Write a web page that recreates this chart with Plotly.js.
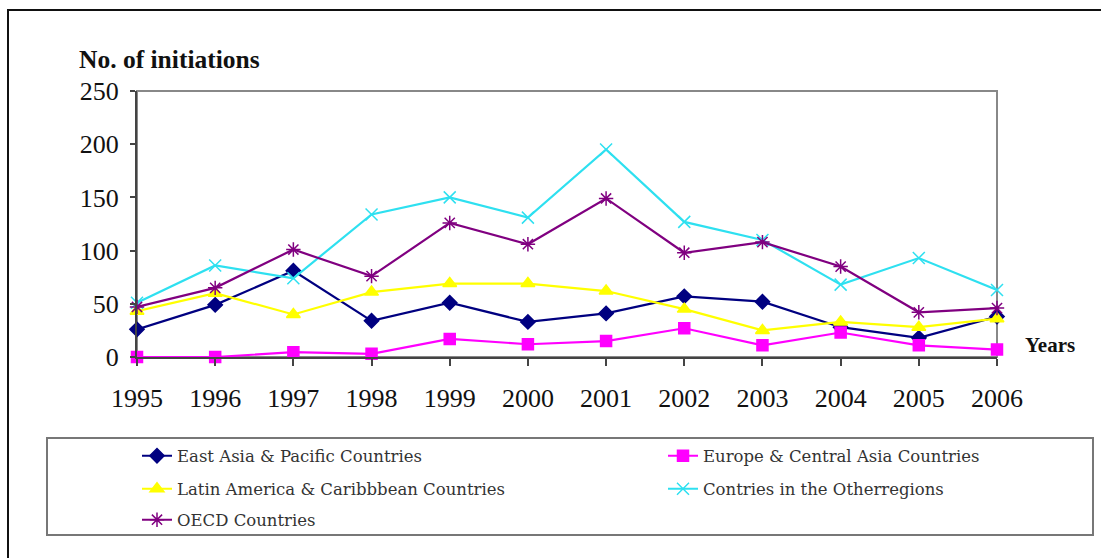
<!DOCTYPE html>
<html>
<head>
<meta charset="utf-8">
<script src="https://cdn.plot.ly/plotly-3.0.1.min.js"></script>
<style>html,body{margin:0;padding:0;background:#fff;}#chart{width:1101px;height:558px;}</style>
</head>
<body>
<div id="chart"></div>
<script>
const years = [1995,1996,1997,1998,1999,2000,2001,2002,2003,2004,2005,2006];
const eastAsia = [26,49,81,34,51,33,41,57,52,28,18,38];
const europe = [0,0,4.5,3,17,12,15,27,11,23,11,7];
const latinAmerica = [43,60,40,61,69,69,62,45,25,33,28,36];
const otherRegions = [51,86,74,134,150,131,195,127,110,68,93,63];
const oecd = [47,65,101,76,126,106,149,98,108,85,42,46];
const seriesNames = ["East Asia & Pacific Countries","Europe & Central Asia Countries","Latin America & Caribbbean Countries","Contries in the Otherregions","OECD Countries"];
const yTicks = [0,50,100,150,200,250];

const L=137, R=997, T=91, B=357;
function px(x){return (x-L)/(R-L);}
function py(y){return (B-y)/(B-T);}

function tr(y, name, color, symbol, size, legend){
  return {x: years, y: y, name: name, type:'scatter', mode:'lines+markers',
    line:{color:color, width:2.2},
    marker:{symbol:symbol, size:size, color:color, line:{color:color, width:1.5}},
    cliponaxis:false, legend:legend};
}
const data = [
  tr(eastAsia, seriesNames[0], '#000080', 'diamond', 11, 'legend'),
  tr(europe, seriesNames[1], '#FF00FF', 'square', 11, 'legend2'),
  tr(latinAmerica, seriesNames[2], '#FFFF00', 'triangle-up', 12, 'legend3'),
  tr(otherRegions, seriesNames[3], '#2EE0F0', 'x-thin-open', 12, 'legend4'),
  tr(oecd, seriesNames[4], '#800080', 'asterisk-open', 12, 'legend5')
];
const serif = 'Liberation Serif';
const tickFont = {family:serif, size:26, color:'#111'};
const legFont = {family:'DejaVu Serif', size:16.5, color:'#333'};
function leg(xp, yp){
  return {orientation:'h', x:px(xp), xanchor:'left', y:py(yp), yanchor:'middle',
    font:legFont, bgcolor:'rgba(0,0,0,0)', borderwidth:0};
}
const layout = {
  width:1101, height:558,
  margin:{l:L, r:1101-R, t:T, b:558-B, pad:0},
  paper_bgcolor:'#fff', plot_bgcolor:'#fff',
  showlegend:true,
  xaxis:{range:[1995,2006], tickvals:years, ticktext:years.map(String), showgrid:false, zeroline:false,
    showline:true, linecolor:'#444', linewidth:2, ticks:'outside', ticklen:7, tickcolor:'#444', tickwidth:2,
    tickfont:tickFont, ticklabelstandoff:10, fixedrange:true},
  yaxis:{range:[0,250], tickvals:yTicks, showgrid:false, zeroline:false,
    showline:true, linecolor:'#444', linewidth:2, ticks:'outside', ticklen:5, tickcolor:'#444', tickwidth:2,
    tickfont:tickFont, ticklabelstandoff:6, fixedrange:true},
  legend:leg(137, 456), legend2:leg(663, 456), legend3:leg(137, 489), legend4:leg(663, 489), legend5:leg(137, 520),
  shapes:[
    {type:'rect', xref:'paper', yref:'paper', x0:0, x1:1, y0:0, y1:1, line:{color:'#888', width:2}, layer:'below'},
    {type:'rect', xref:'paper', yref:'paper', x0:px(47), x1:px(1093), y0:py(438), y1:py(535), line:{color:'#777', width:2}},
    {type:'rect', xref:'paper', yref:'paper', x0:px(8), x1:px(1120), y0:py(10), y1:py(580), line:{color:'#111', width:2}}
  ],
  annotations:[
    {text:'<b>No. of initiations</b>', xref:'paper', yref:'paper', x:px(77), y:py(60), xanchor:'left', yanchor:'middle',
      showarrow:false, font:{family:serif, size:25.5, color:'#111'}},
    {text:'<b>Years</b>', xref:'paper', yref:'paper', x:px(1023), y:py(345), xanchor:'left', yanchor:'middle',
      showarrow:false, font:{family:serif, size:21, color:'#111'}}
  ]
};
Plotly.newPlot('chart', data, layout, {displayModeBar:false, staticPlot:true});
</script>
</body>
</html>
